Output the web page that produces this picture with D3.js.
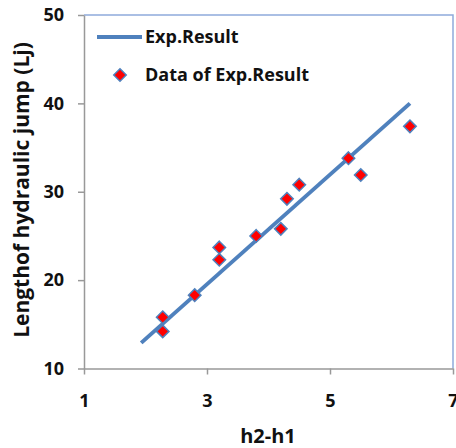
<!DOCTYPE html>
<html>
<head>
<meta charset="utf-8">
<script src="https://cdn.jsdelivr.net/npm/d3@7"></script>
<style>
  body { margin: 0; background: #fff; }
  text { font-family: "Open Sans", Lato, sans-serif; font-weight: bold; fill: #111; }
</style>
</head>
<body>
<svg id="chart" width="456" height="448"></svg>
<script>
// Measured points: h2-h1 vs length of hydraulic jump
const dh = [2.28, 2.28, 2.8, 3.2, 3.2, 3.8, 4.2, 4.3, 4.5, 5.3, 5.5, 6.3];
const lj = [15.8, 14.2, 18.3, 23.7, 22.3, 25.0, 25.8, 29.2, 30.8, 33.8, 31.9, 37.4];
// Fitted line endpoints
const fitX = [1.93, 6.3];
const fitY = [12.9, 40.0];
const xTicks = [1, 3, 5, 7];
const yTicks = [10, 20, 30, 40, 50];

const svg = d3.select("#chart");
const m = { left: 84, right: 453, top: 15, bottom: 368.5 };
const x = d3.scaleLinear().domain([1, 7]).range([m.left, m.right]);
const y = d3.scaleLinear().domain([10, 50]).range([m.bottom, m.top]);
const blue = "#4f81bd";

// plot frame: light blue top/right, gray axes
svg.append("path")
  .attr("d", `M${m.left},${m.top}H${m.right}V${m.bottom}`)
  .attr("fill", "none").attr("stroke", "#8eaadb").attr("stroke-width", 1.5);

const xAxis = svg.append("g").attr("transform", `translate(0,${m.bottom})`)
  .call(d3.axisBottom(x).tickValues(xTicks).tickFormat(d3.format("d"))
    .tickSize(6).tickPadding(20).tickSizeOuter(0));
const yAxis = svg.append("g").attr("transform", `translate(${m.left},0)`)
  .call(d3.axisLeft(y).tickValues(yTicks).tickFormat(d3.format("d"))
    .tickSize(6).tickPadding(14).tickSizeOuter(0));
[xAxis, yAxis].forEach(g => {
  g.select(".domain").attr("stroke", "#999").attr("stroke-width", 1.5);
  g.selectAll(".tick line").attr("stroke", "#999").attr("stroke-width", 1.5);
  g.selectAll(".tick text").style("font-size", "18px").style("font-family", "'Open Sans', sans-serif")
    .style("font-weight", "bold").attr("fill", "#111");
});

// fitted line
const line = d3.line().x(d => x(d[0])).y(d => y(d[1]));
svg.append("path").datum(d3.zip(fitX, fitY)).attr("d", line)
  .attr("fill", "none").attr("stroke", blue).attr("stroke-width", 4);

// data markers
const diamond = d3.symbol().type(d3.symbolDiamond2).size(100);
svg.append("g").selectAll("path").data(d3.zip(dh, lj)).join("path")
  .attr("d", diamond)
  .attr("transform", d => `translate(${x(d[0])},${y(d[1])})`)
  .attr("fill", "#ff0000").attr("stroke", blue).attr("stroke-width", 1.5);

// legend
const lg = svg.append("g");
lg.append("line").attr("x1", 97).attr("x2", 142).attr("y1", 37).attr("y2", 37)
  .attr("stroke", blue).attr("stroke-width", 4);
lg.append("text").attr("x", 145).attr("y", 43).style("font-size", "18px").text("Exp.Result");
lg.append("path").attr("d", diamond).attr("transform", "translate(120,75)")
  .attr("fill", "#ff0000").attr("stroke", blue).attr("stroke-width", 1.5);
lg.append("text").attr("x", 145).attr("y", 81).style("font-size", "18px").text("Data of Exp.Result");

// axis titles
svg.append("text").attr("x", 268).attr("y", 443).attr("text-anchor", "middle")
  .style("font-size", "20px").text("h2-h1");
svg.append("text").attr("transform", "translate(29,190) rotate(-90)").attr("text-anchor", "middle")
  .style("font-size", "21px").text("Lengthof hydraulic jump (Lj)");
</script>
</body>
</html>
